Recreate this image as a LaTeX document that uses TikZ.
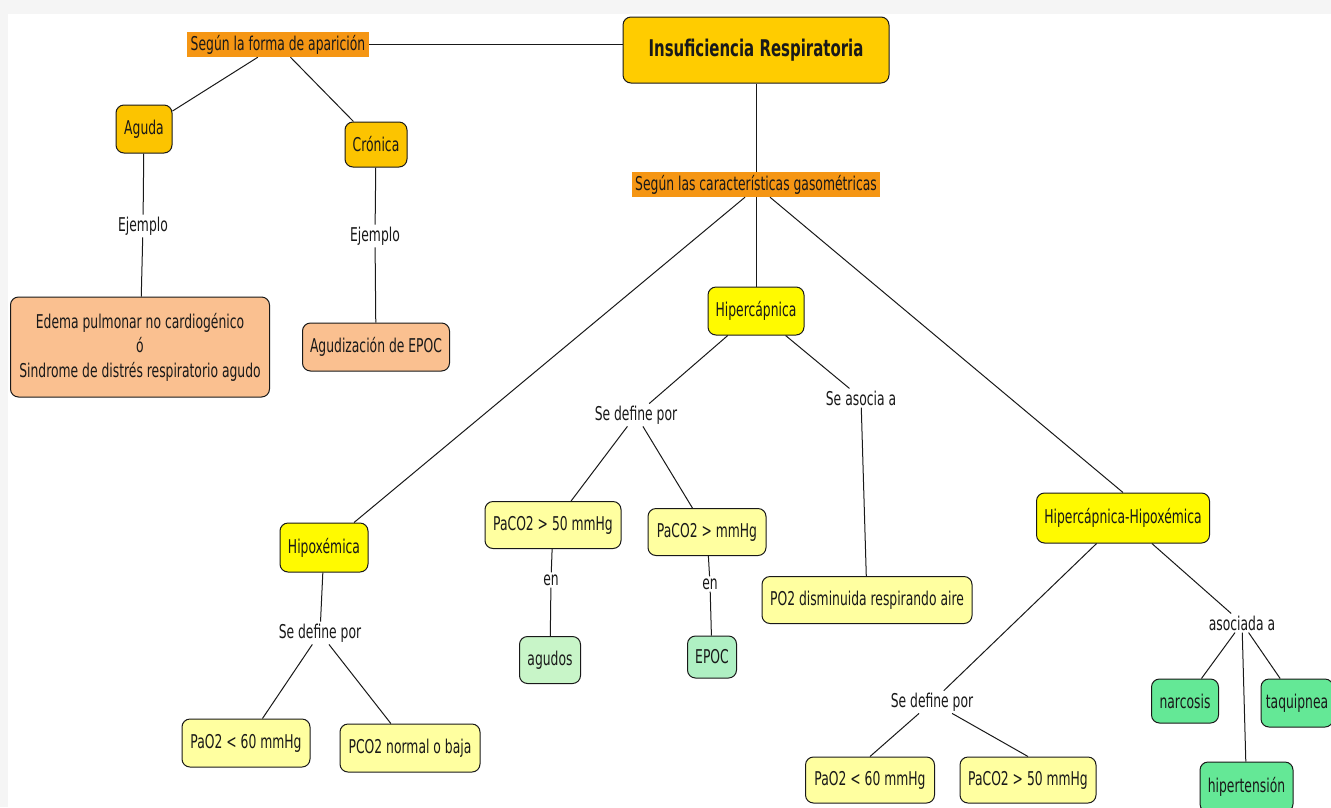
\documentclass[tikz,border=0pt]{standalone}
\usepackage{fontspec}
\setmainfont{DejaVu Sans}[FakeStretch=0.65]
\definecolor{orangeL}{RGB}{245,150,20}
\definecolor{gold}{RGB}{255,204,0}
\definecolor{gold2}{RGB}{252,196,0}
\definecolor{peach}{RGB}{250,192,144}
\definecolor{yel}{RGB}{255,250,0}
\definecolor{lyel}{RGB}{255,255,160}
\definecolor{lgreen}{RGB}{200,245,200}
\definecolor{lgreen2}{RGB}{175,240,195}
\definecolor{mgreen}{RGB}{100,232,150}
\definecolor{ink}{RGB}{25,25,25}
\tikzset{
 base/.style={font=\fontsize{19}{21}\selectfont, text=ink, inner sep=0pt},
 cbox/.style={base, draw=ink, line width=1pt, rounded corners=8pt, align=center},
 olabel/.style={base, fill=orangeL},
 lbl/.style={base, fill=white, inner xsep=2pt, inner ysep=2pt},
 conn/.style={draw=ink, line width=1pt},
}
\begin{document}
\begin{tikzpicture}[x=1pt,y=-1pt]
\fill[gray!8] (0,0) rectangle (1331,807);
\fill[white] (8,14) rectangle (1331,807);
\useasboundingbox (0,0) rectangle (1331,807);

% nodes
\node[olabel, minimum width=182pt, minimum height=25pt] (apar) at (278,44.5) {Según la forma de aparición};
\node[cbox, fill=gold, minimum width=266pt, minimum height=66pt, font=\fontsize{23}{26}\selectfont\bfseries] (insuf) at (756,50) {Insuficiencia Respiratoria};
\node[cbox, fill=gold2, minimum width=56pt, minimum height=48pt] (aguda) at (144,129) {Aguda};
\node[cbox, fill=gold2, minimum width=62pt, minimum height=45pt] (cron) at (376,144.5) {Crónica};
\node[lbl] (ej1) at (143,226) {Ejemplo};
\node[lbl] (ej2) at (375,236) {Ejemplo};
\node[cbox, fill=peach, minimum width=259pt, minimum height=100pt, font=\fontsize{19}{24.5}\selectfont] (edema) at (140,347) {Edema pulmonar no cardiogénico\\ó\\Sindrome de distrés respiratorio agudo};
\node[cbox, fill=peach, minimum width=147pt, minimum height=48pt] (agudiz) at (376,347) {Agudización de EPOC};

\node[olabel, minimum width=248pt, minimum height=25pt] (gas) at (756,184.5) {Según las características gasométricas};
\node[cbox, fill=yel, minimum width=96pt, minimum height=48pt] (hiperc) at (756,311) {Hipercápnica};
\node[lbl] (sd1) at (636,415) {Se define por};
\node[lbl] (sa) at (861,398) {Se asocia a};
\node[cbox, fill=lyel, minimum width=136pt, minimum height=47pt] (pc50) at (553,525) {PaCO2 > 50 mmHg};
\node[cbox, fill=lyel, minimum width=118pt, minimum height=47pt] (pcmm) at (707,532) {PaCO2 > mmHg};
\node[lbl] (en1) at (551,580) {en};
\node[lbl] (en2) at (710,584) {en};
\node[cbox, fill=lgreen, minimum width=61pt, minimum height=47pt] (agudos) at (550,660) {agudos};
\node[cbox, fill=lgreen2, minimum width=49pt, minimum height=42pt] (epoc) at (712,657) {EPOC};
\node[cbox, fill=lyel, minimum width=210pt, minimum height=47pt] (po2) at (867,600) {PO2 disminuida respirando aire};

\node[cbox, fill=yel, minimum width=88pt, minimum height=49pt] (hipox) at (324,547.5) {Hipoxémica};
\node[lbl] (sd2) at (320,633) {Se define por};
\node[cbox, fill=lyel, minimum width=128pt, minimum height=48pt] (pao2l) at (246,743) {PaO2 < 60 mmHg};
\node[cbox, fill=lyel, minimum width=140pt, minimum height=48pt] (pco2n) at (410,748) {PCO2 normal o baja};

\node[cbox, fill=yel, minimum width=173pt, minimum height=50pt] (hh) at (1123,518) {Hipercápnica-Hipoxémica};
\node[lbl] (sd3) at (932,702) {Se define por};
\node[cbox, fill=lyel, minimum width=129pt, minimum height=46pt] (pao2r) at (870,780) {PaO2 < 60 mmHg};
\node[cbox, fill=lyel, minimum width=136pt, minimum height=46pt] (pacor) at (1028,780) {PaCO2 > 50 mmHg};
\node[lbl] (asoc) at (1242,623) {asociada a};
\node[cbox, fill=mgreen, minimum width=67pt, minimum height=44pt] (narc) at (1185,701) {narcosis};
\node[cbox, fill=mgreen, minimum width=72pt, minimum height=48pt] (taq) at (1297,703) {taquipnea};
\node[cbox, fill=mgreen, minimum width=93pt, minimum height=50pt] (hipert) at (1246.5,787) {hipertensión};

% connectors
\draw[conn] (apar.east) -- (apar.east -| insuf.west);
\draw[conn] (apar) -- (aguda);
\draw[conn] (apar) -- (cron);
\draw[conn] (aguda) -- (ej1);
\draw[conn] (ej1) -- (edema);
\draw[conn] (cron) -- (ej2);
\draw[conn] (ej2) -- (agudiz);
\draw[conn] (insuf) -- (gas);
\draw[conn] ([xshift=-11pt]gas.south) -- (hipox);
\draw[conn] (gas) -- (hiperc);
\draw[conn] ([xshift=14pt]gas.south) -- (hh.north);
\draw[conn] (hiperc) -- (sd1);
\draw[conn] (sd1) -- (pc50);
\draw[conn] (sd1) -- (pcmm);
\draw[conn] (hiperc) -- (sa);
\draw[conn] (sa) -- (po2);
\draw[conn] (pc50) -- (en1);
\draw[conn] (en1) -- (agudos);
\draw[conn] (pcmm) -- (en2);
\draw[conn] (en2) -- (epoc);
\draw[conn] (hipox) -- (sd2);
\draw[conn] (sd2) -- (pao2l);
\draw[conn] (sd2) -- (pco2n);
\draw[conn] (hh) -- (sd3);
\draw[conn] (sd3) -- (pao2r.north);
\draw[conn] (sd3) -- (pacor.north);
\draw[conn] (hh) -- (asoc);
\draw[conn] (asoc) -- (narc);
\draw[conn] (asoc) -- (hipert);
\draw[conn] (asoc) -- (taq);
\end{tikzpicture}
\end{document}
